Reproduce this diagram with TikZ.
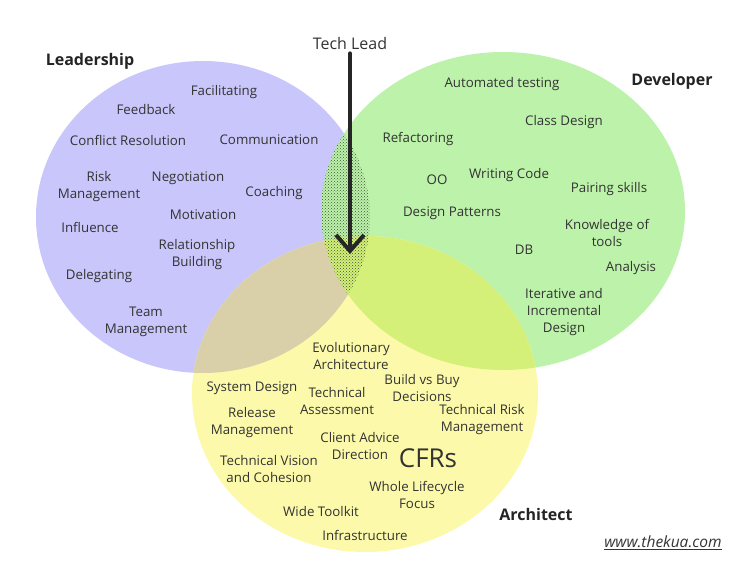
\documentclass[tikz,border=0pt]{standalone}
\usepackage{fontspec}
\setmainfont{Open Sans}
\usetikzlibrary{arrows.meta,patterns}

\definecolor{leadfill}{RGB}{200,198,250}
\definecolor{devfill}{RGB}{189,242,170}
\definecolor{archfill}{RGB}{252,250,170}
\definecolor{leadarch}{RGB}{217,207,168}
\definecolor{devarch}{RGB}{212,240,120}
\definecolor{dotcol}{RGB}{60,85,55}
\definecolor{ink}{RGB}{51,51,51}
\definecolor{arrowink}{RGB}{38,38,38}

\begin{document}
\begin{tikzpicture}[x=1pt,y=-1pt,
  skill/.style={text=ink, align=center, inner sep=0pt,
                font=\fontsize{13.3}{17}\selectfont},
  role/.style={text=ink!70!black, inner sep=0pt,
               font=\fontsize{16}{19}\selectfont\bfseries},
  pointer/.style={draw=arrowink, line width=4pt, line cap=round,
                  line join=round,
                  -{Straight Barb[length=16pt,width=28pt]}},
]
\useasboundingbox (0,0) rectangle (734,570);

% the three role areas
\fill[leadfill] (203,217) ellipse [x radius=167pt, y radius=156pt];
\fill[devfill]  (503,211) ellipse [x radius=182pt, y radius=159pt];
\fill[archfill] (365,394) ellipse [x radius=173pt, y radius=158pt];

% leadership + architect overlap
\begin{scope}
  \clip (203,217) ellipse [x radius=167pt, y radius=156pt];
  \fill[leadarch] (365,394) ellipse [x radius=173pt, y radius=158pt];
\end{scope}
% developer + architect overlap
\begin{scope}
  \clip (503,211) ellipse [x radius=182pt, y radius=159pt];
  \fill[devarch] (365,394) ellipse [x radius=173pt, y radius=158pt];
\end{scope}
% leadership + developer overlap, stippled
\begin{scope}
  \clip (203,217) ellipse [x radius=167pt, y radius=156pt];
  \fill[pattern=crosshatch dots, pattern color=dotcol]
    (503,211) ellipse [x radius=182pt, y radius=159pt];
\end{scope}

% role titles
\node[role] (leadership) at (90,61)  {Leadership};
\node[role] (developer)  at (672,81) {Developer};
\node[role] (architect)  at (536,514) {Architect};

% tech lead pointer
\node[text=ink, inner sep=0pt, font=\fontsize{16}{19}\selectfont]
  (techlead) at (350,43) {Tech Lead};
\coordinate (sweetspot) at (350,254);
\draw[pointer, shorten <=4pt] (techlead.south) -- (sweetspot);

% leadership skills
\node[skill] (facilitating) at (224,92)  {Facilitating};
\node[skill] (feedback)     at (146,110) {Feedback};
\node[skill] (conflict)     at (128,140) {Conflict Resolution};
\node[skill] (communication) at (269,140) {Communication};
\node[skill] (riskmgmt)     at (99,186.5) {Risk\\Management};
\node[skill] (negotiation)  at (188,178) {Negotiation};
\node[skill] (coaching)     at (274,193) {Coaching};
\node[skill] (motivation)   at (203,215) {Motivation};
\node[skill] (influence)    at (90,227)  {Influence};
\node[skill] (relationship) at (197,255) {Relationship\\Building};
\node[skill] (delegating)   at (99,276)  {Delegating};
\node[skill] (teammgmt)     at (146,322) {Team\\Management};

% developer skills
\node[skill] (autotest)     at (502,84)  {Automated testing};
\node[skill] (classdesign)  at (564,122) {Class Design};
\node[skill] (refactoring)  at (418,139) {Refactoring};
\node[skill] (oo)           at (437,180) {OO};
\node[skill] (writingcode)  at (509,175) {Writing Code};
\node[skill] (pairing)      at (609,189) {Pairing skills};
\node[skill] (patterns)     at (452,213) {Design Patterns};
\node[skill] (tools)        at (607,232.5) {Knowledge of\\tools};
\node[skill] (db)           at (524,250) {DB};
\node[skill] (analysis)     at (631,268) {Analysis};
\node[skill] (iterative)    at (564,312) {Iterative and\\Incremental\\Design};

% architect skills
\node[skill] (evolutionary) at (351,356)   {Evolutionary\\Architecture};
\node[skill] (systemdesign) at (252,388)   {System Design};
\node[skill] (assessment)   at (337,401.5) {Technical\\Assessment};
\node[skill] (buildbuy)     at (422,388)   {Build vs Buy\\Decisions};
\node[skill] (techrisk)     at (482,420)   {Technical Risk\\Management};
\node[skill] (release)      at (252,423)   {Release\\Management};
\node[skill] (clientadvice) at (360,446)   {Client Advice\\Direction};
\node[text=ink, inner sep=0pt, font=\fontsize{26}{30}\selectfont]
  (cfrs) at (428,458) {CFRs};
\node[skill] (vision)       at (269,469.5) {Technical Vision\\and Cohesion};
\node[skill] (lifecycle)    at (417,495)   {Whole Lifecycle\\Focus};
\node[skill] (toolkit)      at (321,512)   {Wide Toolkit};
\node[skill] (infra)        at (365,535)   {Infrastructure};

% credit
\node[text=ink, inner sep=0pt, font=\fontsize{15.5}{18}\selectfont\itshape]
  (credit) at (663,542) {www.thekua.com};
\draw[ink, line width=0.8pt]
  ([yshift=-1.5pt]credit.south west) -- ([yshift=-1.5pt]credit.south east);
\end{tikzpicture}
\end{document}
